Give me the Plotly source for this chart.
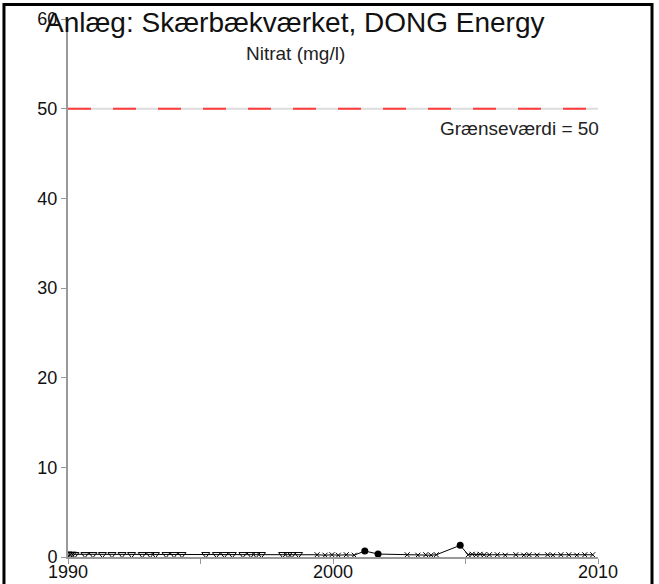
import plotly.graph_objects as go

# Nitrate samples (mg/l) by decimal year
years_1 = [1990.0, 1990.08, 1990.16, 1990.26, 1990.64, 1990.94, 1991.3, 1991.66,
           1992.04, 1992.4, 1992.8, 1993.1, 1993.3, 1993.7, 1994.0, 1994.3,
           1995.2, 1995.6, 1995.9, 1996.2, 1996.6, 1996.9, 1997.1, 1997.3,
           1998.1, 1998.3, 1998.45, 1998.7]
nitrate_1 = [0.35, 0.3, 0.35, 0.3, 0.3, 0.3, 0.3, 0.3,
             0.3, 0.3, 0.3, 0.3, 0.3, 0.3, 0.3, 0.3,
             0.3, 0.3, 0.3, 0.3, 0.3, 0.3, 0.3, 0.3,
             0.3, 0.3, 0.3, 0.3]

years_2 = [1999.4, 1999.7, 1999.96, 2000.2, 2000.5, 2000.8, 2001.2, 2001.7,
           2002.8, 2003.2, 2003.5, 2003.7, 2003.9, 2004.8, 2005.1, 2005.25,
           2005.4, 2005.55, 2005.7, 2005.9, 2006.2, 2006.5, 2006.9, 2007.2,
           2007.4, 2007.7, 2008.1, 2008.3, 2008.6, 2008.9, 2009.2, 2009.5, 2009.8]
nitrate_2 = [0.25, 0.2, 0.25, 0.2, 0.25, 0.2, 0.67, 0.33,
             0.25, 0.2, 0.25, 0.2, 0.25, 1.3, 0.25, 0.3,
             0.25, 0.3, 0.25, 0.25, 0.25, 0.2, 0.25, 0.2,
             0.25, 0.2, 0.25, 0.2, 0.25, 0.25, 0.2, 0.25, 0.25]

DETECTION_LIMIT = 0.3
LIMIT_VALUE = 50

x_ticks = [1990, 2000, 2010]
y_ticks = [0, 10, 20, 30, 40, 50, 60]

FONT = "Liberation Sans, Arial, sans-serif"

fig = go.Figure()

# connecting line through all samples
fig.add_trace(go.Scatter(
    x=years_1 + years_2, y=nitrate_1 + nitrate_2, mode="lines",
    line=dict(color="black", width=1), hoverinfo="skip", showlegend=False))

fig.add_trace(go.Scatter(
    x=years_1, y=nitrate_1, mode="markers",
    marker=dict(symbol="triangle-down-open", size=7, color="black",
                line=dict(width=1, color="black")),
    showlegend=False))

below = [(x, y) for x, y in zip(years_2, nitrate_2) if y <= DETECTION_LIMIT]
above = [(x, y) for x, y in zip(years_2, nitrate_2) if y > DETECTION_LIMIT]

fig.add_trace(go.Scatter(
    x=[p[0] for p in below], y=[p[1] for p in below], mode="markers",
    marker=dict(symbol="x-thin", size=5, color="black",
                line=dict(width=1, color="black")),
    showlegend=False))

fig.add_trace(go.Scatter(
    x=[p[0] for p in above], y=[p[1] for p in above], mode="markers",
    marker=dict(symbol="circle", size=7, color="black"),
    showlegend=False))

# limit value: faint grey line with red dashes on top
fig.add_shape(type="line", xref="x", yref="y", x0=x_ticks[0], x1=x_ticks[-1],
              y0=LIMIT_VALUE, y1=LIMIT_VALUE, line=dict(color="#dddddd", width=2),
              layer="above")
fig.add_shape(type="line", xref="x", yref="y", x0=x_ticks[0], x1=x_ticks[-1],
              y0=LIMIT_VALUE, y1=LIMIT_VALUE,
              line=dict(color="#ff3b3b", width=2, dash="23px,22px"), layer="above")

fig.add_annotation(x=x_ticks[-1], y=LIMIT_VALUE, xref="x", yref="y",
                   text=f"Grænseværdi = {LIMIT_VALUE}", showarrow=False,
                   xanchor="right", yanchor="top", yshift=-7, xshift=3,
                   font=dict(family=FONT, size=19, color="#222222"))

fig.add_annotation(x=0.43, y=0.935, xref="paper", yref="paper",
                   text="Nitrat (mg/l)", showarrow=False,
                   xanchor="center", yanchor="middle",
                   font=dict(family=FONT, size=19, color="#222222"))

# year labels set close under the axis
for t in x_ticks:
    fig.add_annotation(x=t, y=y_ticks[0], xref="x", yref="y", text=str(t),
                       showarrow=False, xanchor="center", yanchor="top", yshift=-3,
                       font=dict(family=FONT, size=18, color="#111111"))

# outer frame
fig.add_shape(type="rect", xref="paper", yref="paper",
              x0=-0.1208, x1=1.1019, y0=-0.08, y1=1.027,
              line=dict(color="black", width=3), layer="above")

fig.update_layout(
    width=659, height=584,
    margin=dict(l=68, r=61, t=19, b=27),
    paper_bgcolor="white", plot_bgcolor="white",
    title=dict(text="Anlæg: Skærbækværket, DONG Energy", x=45 / 659, xanchor="left",
               xref="container", y=1 - 22 / 584, yanchor="middle", yref="container",
               font=dict(family=FONT, size=28, color="#111111")),
    font=dict(family=FONT, color="#111111"),
)

fig.update_xaxes(range=[x_ticks[0], x_ticks[-1]], tickvals=x_ticks,
                 showticklabels=False, automargin=False,
                 showgrid=False, zeroline=False,
                 showline=True, linecolor="#999999", linewidth=2,
                 ticks="outside", ticklen=5, tickcolor="#999999", tickwidth=1,
                 minor=dict(dtick=5, tick0=1990, ticks="outside", ticklen=5,
                            tickcolor="#999999", showgrid=False))

fig.update_yaxes(range=[y_ticks[0], y_ticks[-1]], tickvals=y_ticks, automargin=False,
                 showgrid=False, zeroline=False,
                 showline=True, linecolor="#999999", linewidth=2,
                 ticks="outside", ticklen=5, tickcolor="#999999", tickwidth=1,
                 tickfont=dict(family=FONT, size=18, color="#111111"))

fig.write_html("out.html")
